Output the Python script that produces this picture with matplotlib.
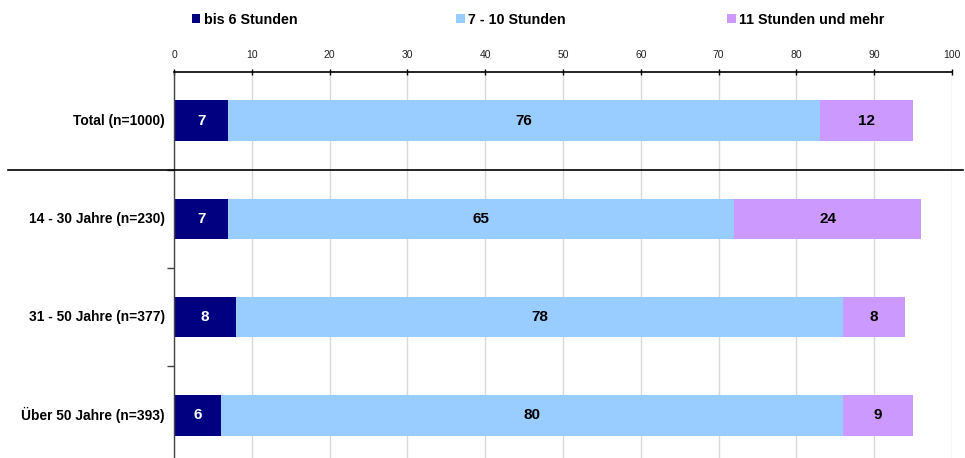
import matplotlib
matplotlib.use("Agg")
import matplotlib.pyplot as plt
from matplotlib.patches import Patch
from matplotlib.lines import Line2D
from matplotlib.transforms import blended_transform_factory

plt.rcParams['font.family'] = ['Liberation Sans', 'DejaVu Sans']

categories = ["Total (n=1000)", "14 - 30 Jahre (n=230)", "31 - 50 Jahre (n=377)", "Über 50 Jahre (n=393)"]
series_names = ["bis 6 Stunden", "7 - 10 Stunden", "11 Stunden und mehr"]
bis6 = [7, 7, 8, 6]
h7_10 = [76, 65, 78, 80]
h11plus = [12, 24, 8, 9]
x_ticks = [0, 10, 20, 30, 40, 50, 60, 70, 80, 90, 100]

colors = ["#000080", "#99CCFF", "#CC99FF"]
text_colors = ["white", "black", "black"]

W, H = 965, 458
fig = plt.figure(figsize=(W / 100, H / 100), dpi=100)
ax_left, ax_right = 174, 952
ax_top, ax_bot = 71.5, 458
ax = fig.add_axes([ax_left / W, 1 - ax_bot / H, (ax_right - ax_left) / W, (ax_bot - ax_top) / H])

ypos = list(range(len(categories)))
series = [bis6, h7_10, h11plus]
left = [0] * len(categories)
for vals, c, tc in zip(series, colors, text_colors):
    ax.barh(ypos, vals, left=left, height=0.41, color=c, zorder=2)
    for y, v, l in zip(ypos, vals, left):
        ax.text(l + v / 2, y, str(v), ha="center", va="center", color=tc,
                fontsize=11, fontweight="bold", zorder=3)
    left = [a + b for a, b in zip(left, vals)]

ax.set_xlim(0, 100)
unit = 98.3
top_c = 120.5
ax.set_ylim((ax_bot - top_c) / unit, (ax_top - top_c) / unit)

ax.xaxis.tick_top()
ax.set_xticks(x_ticks)
ax.set_xticklabels([str(t) for t in x_ticks], fontsize=7.5)
ax.tick_params(axis="x", direction="inout", length=5, width=1, pad=6, colors="black", labelcolor="#222222")
ax.xaxis.grid(True, color="#D9D9D9", linewidth=1, zorder=0)
ax.set_axisbelow(True)

ax.set_yticks([0.5, 1.5, 2.5])
ax.set_yticklabels([])
ax.tick_params(axis="y", direction="out", length=5, width=1, colors="#444444")
for y, lab in zip(ypos, categories):
    ax.text(-1.2, y, lab, ha="right", va="center", fontsize=9.9, fontweight="bold")

for s in ["right", "bottom"]:
    ax.spines[s].set_visible(False)
ax.spines["top"].set_linewidth(1.2)
ax.spines["left"].set_linewidth(1.0)
ax.spines["left"].set_color("#444444")

# separator line between Total and age groups
trans = blended_transform_factory(fig.transFigure, ax.transData)
fig.add_artist(Line2D([8 / W, 963 / W], [0.5, 0.5], transform=trans, color="black", linewidth=1.2))

# legend entries
leg_x = [191.5, 456, 727]
for name, c, x in zip(series_names, colors, leg_x):
    fig.legend(handles=[Patch(facecolor=c, edgecolor="none")], labels=[name],
               loc="center left", bbox_to_anchor=(x / W, 1 - 19.5 / H), frameon=False,
               borderpad=0, borderaxespad=0, handlelength=0.6, handleheight=0.6,
               handletextpad=0.25, prop={"weight": "bold", "size": 10.3})

fig.savefig("out.png", dpi=100)
